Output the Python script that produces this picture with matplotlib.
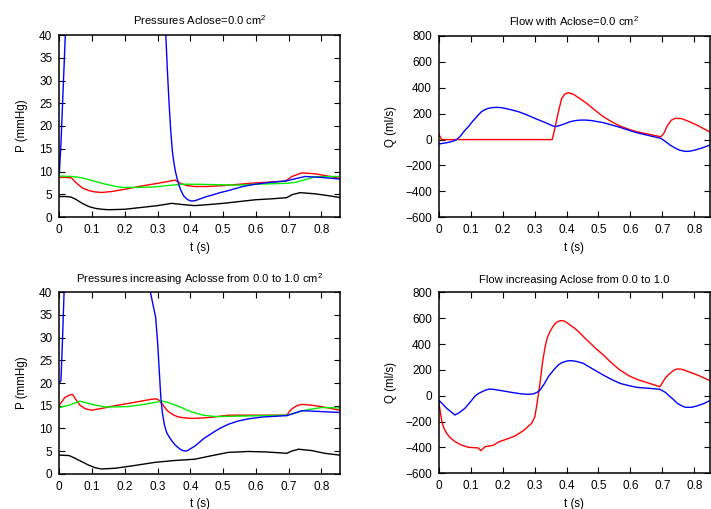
import matplotlib
matplotlib.use("Agg")
import matplotlib.pyplot as plt


# time ticks shared by all four panels
T_TICKS = [0, 0.1, 0.2, 0.3, 0.4, 0.5, 0.6, 0.7, 0.8]
T_LABELS = ["0", "0.1", "0.2", "0.3", "0.4", "0.5", "0.6", "0.7", "0.8"]
P_TICKS = [0, 5, 10, 15, 20, 25, 30, 35, 40]
Q_TICKS = [-600, -400, -200, 0, 200, 400, 600, 800]

# --- Aclose = 0.0 : pressures ---
t_black_a = [0, 0.02, 0.035, 0.05, 0.07, 0.09, 0.11, 0.13, 0.15, 0.2, 0.25, 0.3, 0.343,
             0.38, 0.414, 0.45, 0.5, 0.55, 0.6, 0.65, 0.694, 0.71, 0.735, 0.78, 0.82, 0.855]
p_black_a = [4.5, 4.5, 4.4, 3.9, 3.0, 2.3, 1.9, 1.7, 1.6, 1.7, 2.1, 2.5, 3.0,
             2.7, 2.5, 2.7, 3.0, 3.4, 3.8, 4.0, 4.25, 4.9, 5.35, 5.1, 4.7, 4.3]

t_red_a = [0, 0.02, 0.037, 0.05, 0.07, 0.09, 0.11, 0.13, 0.16, 0.2, 0.25, 0.3, 0.353,
           0.37, 0.39, 0.414, 0.45, 0.5, 0.55, 0.6, 0.65, 0.69, 0.71, 0.74, 0.78, 0.82, 0.855]
p_red_a = [8.7, 8.7, 8.6, 7.6, 6.4, 5.8, 5.5, 5.4, 5.6, 6.1, 6.8, 7.4, 8.1,
           7.4, 6.9, 6.7, 6.7, 6.9, 7.2, 7.5, 7.7, 7.9, 8.9, 9.7, 9.5, 9.0, 8.5]

t_green_a = [0, 0.04, 0.07, 0.1, 0.13, 0.16, 0.19, 0.24, 0.29, 0.33, 0.374, 0.42,
             0.48, 0.546, 0.6, 0.65, 0.69, 0.72, 0.75, 0.78, 0.82, 0.855]
p_green_a = [9.0, 8.9, 8.6, 8.0, 7.4, 6.9, 6.5, 6.5, 6.6, 6.9, 7.2, 7.2,
             7.1, 7.0, 7.2, 7.3, 7.4, 7.6, 8.2, 8.8, 8.9, 8.9]

t_blue_a = [0, 0.005, 0.01, 0.015, 0.02, 0.03, 0.05, 0.1, 0.2, 0.28, 0.31, 0.325, 0.33,
            0.335, 0.34, 0.345, 0.35, 0.355, 0.36, 0.365, 0.372, 0.38, 0.39, 0.398,
            0.405, 0.415, 0.43, 0.45, 0.47, 0.49, 0.516, 0.54, 0.56, 0.59,
            0.618, 0.65, 0.69, 0.72, 0.75, 0.8, 0.855]
p_blue_a = [9.5, 16, 25, 34, 43, 58, 80, 105, 115, 90, 60, 40, 32,
            25, 19, 14.5, 11.8, 9.8, 8.3, 7.0, 5.7, 4.6, 3.9, 3.6,
            3.5, 3.6, 4.0, 4.5, 4.9, 5.35, 5.8, 6.3, 6.7, 7.1,
            7.4, 7.65, 7.9, 8.4, 8.9, 8.7, 8.35]

# --- Aclose = 0.0 : flows ---
t_qred_a = [0, 0.009, 0.1, 0.2, 0.3, 0.355, 0.362, 0.369, 0.377, 0.385, 0.395, 0.405,
            0.42, 0.44, 0.463, 0.49, 0.515, 0.54, 0.567, 0.6, 0.62, 0.66, 0.695,
            0.705, 0.715, 0.728, 0.74, 0.76, 0.777, 0.81, 0.855]
q_red_a = [45, 0, 0, 0, 0, 0, 70, 151, 240, 319, 352, 362,
           352, 320, 280, 225, 177, 140, 105, 75, 61, 40, 22,
           50, 105, 150, 164, 162, 146, 110, 50]

t_qblue_a = [0, 0.03, 0.046, 0.056, 0.066, 0.075, 0.084, 0.093, 0.104, 0.115, 0.125,
             0.134, 0.145, 0.155, 0.168, 0.181, 0.195, 0.21, 0.23, 0.249,
             0.275, 0.301, 0.335, 0.355, 0.364, 0.375, 0.39, 0.411, 0.426, 0.44,
             0.452, 0.465, 0.48, 0.515, 0.54, 0.567, 0.595, 0.62, 0.66, 0.695, 0.71,
             0.724, 0.735, 0.745, 0.755, 0.765, 0.775, 0.785, 0.8, 0.82, 0.84, 0.855]
q_blue_a = [-34, -22, -11, 0, 22, 50, 77, 100, 135, 165, 193,
            216, 232, 241, 247, 249, 247, 240, 228, 216,
            192, 164, 130, 108, 100, 106, 118, 138, 146, 150,
            151, 150, 146, 131, 114, 95, 72, 53, 30, 10, -15,
            -42, -58, -72, -82, -88, -91, -90, -82, -68, -50, -36]

# --- Aclose 0.0 -> 1.0 : pressures ---
t_black_b = [0, 0.03, 0.048, 0.07, 0.089, 0.11, 0.129, 0.17, 0.22, 0.292, 0.35, 0.414,
             0.46, 0.516, 0.577, 0.63, 0.694, 0.71, 0.73, 0.77, 0.81, 0.855]
p_black_b = [4.1, 4.0, 3.4, 2.6, 1.9, 1.3, 1.04, 1.2, 1.7, 2.5, 2.9, 3.2,
             3.9, 4.7, 4.9, 4.8, 4.5, 5.0, 5.4, 5.1, 4.5, 4.1]

t_red_b = [0, 0.017, 0.03, 0.04, 0.05, 0.063, 0.08, 0.099, 0.13, 0.17, 0.211, 0.25,
           0.28, 0.292, 0.3, 0.307, 0.314, 0.32, 0.326, 0.333, 0.341, 0.35, 0.36,
           0.373, 0.39, 0.414, 0.46, 0.516, 0.6, 0.694, 0.702, 0.71, 0.725,
           0.74, 0.77, 0.8, 0.855]
p_red_b = [15.1, 16.8, 17.3, 17.5, 16.4, 15.1, 14.3, 14.0, 14.4, 15.0, 15.5, 16.0,
           16.4, 16.5, 16.4, 16.0, 15.4, 14.8, 14.2, 13.7, 13.3, 12.9, 12.6,
           12.4, 12.25, 12.2, 12.4, 12.9, 12.9, 12.9, 13.7, 14.3, 15.0,
           15.3, 15.1, 14.8, 14.0]

t_green_b = [0, 0.03, 0.063, 0.1, 0.14, 0.21, 0.26, 0.313, 0.333, 0.35, 0.373, 0.39,
             0.414, 0.44, 0.475, 0.55, 0.694, 0.72, 0.75, 0.8, 0.855]
p_green_b = [14.6, 15.1, 16.0, 15.3, 14.7, 14.8, 15.3, 16.0, 15.7, 15.2, 14.6, 14.0,
             13.4, 12.9, 12.6, 12.7, 12.9, 13.4, 14.0, 14.6, 14.5]

t_blue_b = [0, 0.005, 0.01, 0.015, 0.03, 0.06, 0.12, 0.2, 0.25, 0.278, 0.294, 0.3,
            0.304, 0.31, 0.315, 0.321, 0.328, 0.338, 0.346, 0.354, 0.362, 0.369,
            0.377, 0.384, 0.392, 0.4, 0.412, 0.424, 0.44, 0.465, 0.49, 0.516,
            0.545, 0.577, 0.62, 0.694, 0.72, 0.74, 0.8, 0.855]
p_blue_b = [20, 20.5, 30, 41, 60, 85, 100, 95, 70, 40, 34.5, 29,
            24, 16.6, 13.2, 10.7, 9.0, 7.8, 7.0, 6.3, 5.8, 5.4,
            5.1, 5.0, 5.1, 5.5, 6.0, 6.7, 7.7, 8.9, 10.0, 10.9,
            11.6, 12.1, 12.5, 12.8, 13.4, 13.9, 13.7, 13.5]

# --- Aclose 0.0 -> 1.0 : flows ---
t_qred_b = [0, 0.004, 0.009, 0.015, 0.025, 0.035, 0.051, 0.07, 0.093, 0.124, 0.132,
            0.145, 0.16, 0.171, 0.187, 0.21, 0.239, 0.265, 0.291, 0.301, 0.309, 0.317,
            0.325, 0.333, 0.34, 0.348, 0.356, 0.365, 0.373, 0.38, 0.387, 0.395,
            0.403, 0.411, 0.426, 0.44, 0.46, 0.49, 0.515, 0.54, 0.567, 0.595, 0.62,
            0.66, 0.692, 0.7, 0.71, 0.724, 0.735, 0.745, 0.76, 0.776, 0.81, 0.855]
q_red_b = [-38, -110, -188, -245, -291, -322, -355, -380, -399, -404, -425,
           -394, -388, -383, -358, -338, -311, -270, -213, -162, -40, 96,
           260, 379, 450, 495, 530, 560, 573, 580, 581, 575,
           562, 547, 521, 490, 440, 370, 315, 256, 199, 155, 127,
           95, 70, 100, 140, 174, 195, 207, 205, 191, 160, 110]

t_qblue_b = [0, 0.025, 0.051, 0.065, 0.082, 0.1, 0.114, 0.125, 0.135, 0.145, 0.155,
             0.165, 0.175, 0.197, 0.23, 0.26, 0.28, 0.296, 0.307, 0.317, 0.33, 0.343,
             0.36, 0.374, 0.385, 0.395, 0.405, 0.416, 0.43, 0.452, 0.48, 0.515,
             0.54, 0.567, 0.595, 0.62, 0.66, 0.692, 0.71, 0.724, 0.735, 0.745,
             0.758, 0.771, 0.79, 0.807, 0.83, 0.855]
q_blue_b = [-33, -97, -149, -130, -97, -45, -2, 18, 30, 42, 50,
            51, 48, 39, 25, 14, 11, 14, 25, 44, 90, 147,
            200, 238, 255, 264, 270, 271, 266, 251, 210, 160,
            127, 96, 78, 65, 57, 50, 25, -7, -30, -55,
            -75, -89, -90, -80, -60, -30]


plt.rcParams["font.family"] = ["Liberation Sans", "DejaVu Sans"]
plt.rcParams["mathtext.default"] = "regular"
plt.rcParams["font.size"] = 8.3

fig = plt.figure(figsize=(7.11, 5.09), dpi=100)

W, H = 711.0, 509.0


def make_axes(left, top, right, bottom):
    return fig.add_axes([left / W, 1 - bottom / H, (right - left) / W, (bottom - top) / H])


ax_pa = make_axes(59.3, 35.0, 339.8, 217.0)
ax_qa = make_axes(438.7, 36.0, 710.0, 217.3)
ax_pb = make_axes(59.3, 292.3, 339.8, 473.7)
ax_qb = make_axes(438.7, 292.3, 710.0, 473.3)

lw = 1.0
green = "#00ee00"

ax_pa.plot(t_black_a, p_black_a, color="black", lw=lw)
ax_pa.plot(t_red_a, p_red_a, color="red", lw=lw)
ax_pa.plot(t_green_a, p_green_a, color=green, lw=lw)
ax_pa.plot(t_blue_a, p_blue_a, color="blue", lw=lw)

ax_qa.plot(t_qred_a, q_red_a, color="red", lw=lw)
ax_qa.plot(t_qblue_a, q_blue_a, color="blue", lw=lw)

ax_pb.plot(t_black_b, p_black_b, color="black", lw=lw)
ax_pb.plot(t_red_b, p_red_b, color="red", lw=lw)
ax_pb.plot(t_green_b, p_green_b, color=green, lw=lw)
ax_pb.plot(t_blue_b, p_blue_b, color="blue", lw=lw)

ax_qb.plot(t_qred_b, q_red_b, color="red", lw=lw)
ax_qb.plot(t_qblue_b, q_blue_b, color="blue", lw=lw)

for ax in (ax_pa, ax_pb):
    ax.set_xlim(0, 0.856)
    ax.set_ylim(0, 40)
    ax.set_yticks(P_TICKS)
    ax.set_ylabel("P (mmHg)", labelpad=8)

for ax in (ax_qa, ax_qb):
    ax.set_xlim(0, 0.849)
    ax.set_ylim(-600, 800)
    ax.set_yticks(Q_TICKS)
    ax.set_ylabel("Q (ml/s)", labelpad=6)

for ax in (ax_pa, ax_qa, ax_pb, ax_qb):
    ax.set_xticks(T_TICKS)
    ax.set_xticklabels(T_LABELS)
    ax.set_xlabel("t (s)", labelpad=4)
    ax.tick_params(direction="in", top=True, right=True, length=4, width=0.8,
                   pad=5, labelsize=8.5, colors="black")
    for s in ax.spines.values():
        s.set_linewidth(1.1)

ax_pa.set_title("Pressures Aclose=0.0 cm$^2$", fontsize=8.1, pad=7)
ax_qa.set_title("Flow with Aclose=0.0 cm$^2$", fontsize=8.1, pad=7)
ax_pb.set_title("Pressures increasing Aclosse from 0.0 to 1.0 cm$^2$", fontsize=8.1, pad=7)
ax_qb.set_title("Flow increasing Aclose from 0.0 to 1.0", fontsize=8.1, pad=7)

fig.savefig("out.png", dpi=100)
